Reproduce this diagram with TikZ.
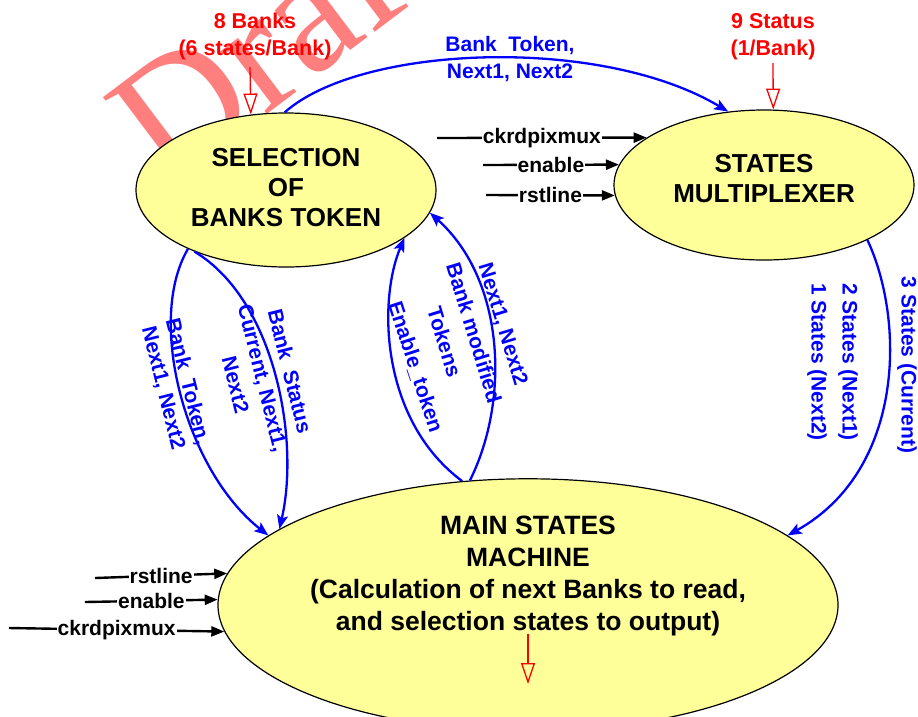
\documentclass[tikz,border=0pt]{standalone}
\usepackage{fontspec}
\setmainfont{Liberation Sans}
\newfontfamily\wmfont{Liberation Serif}
\usetikzlibrary{arrows.meta,shapes.geometric}
\definecolor{stateyellow}{RGB}{255,255,153}
\tikzset{
  statenode/.style={ellipse, draw=black, line width=1.2pt, fill=stateyellow, inner sep=0pt, align=center, font=\fontsize{26}{30}\selectfont\bfseries},
  flow/.style={draw=blue, line width=2.3pt, -{Stealth[length=14pt,width=11pt,inset=3pt]}},
  flowlabel/.style={text=blue, font=\fontsize{21}{25}\selectfont\bfseries, align=center, inner sep=0pt},
  redlabel/.style={text=red, font=\fontsize{21.5}{27}\selectfont\bfseries, align=center, inner sep=0pt},
  redarrow/.style={draw=red, line width=1.3pt, -{Triangle[open, length=21pt, width=14pt]}},
  sigarrow/.style={draw=black, line width=2.4pt, -{Triangle[length=13pt, width=10pt]}},
  siglabel/.style={fill=white, inner sep=1pt, font=\fontsize{21}{25}\selectfont\bfseries},
  watermark/.style={text=red, opacity=0.5, inner sep=0pt, font=\wmfont\fontsize{170}{170}\selectfont}
}
\begin{document}
\begin{tikzpicture}[x=1pt,y=-1pt]
\useasboundingbox (0,0) rectangle (918,716);
\begin{scope}
\clip (0,0) rectangle (918,716);
\node[watermark, anchor=base west, rotate=37] (wm) at (166,190) {Draft};
\end{scope}

% states
\node[statenode, minimum width=300pt, minimum height=154pt] (sel) at (286,190) {SELECTION\\OF\\BANKS TOKEN\\[-24pt]\mbox{}};
\node[statenode, minimum width=300pt, minimum height=150pt] (mux) at (764,185) {STATES\\MULTIPLEXER\\[-16pt]\mbox{}};
\node[statenode, minimum width=620pt, minimum height=224pt, font=\fontsize{26.5}{32}\selectfont\bfseries] (main) at (528,605)
  {MAIN STATES\\MACHINE\\(Calculation of next Banks to read,\\and selection states to output)\\\mbox{}\\\mbox{}};

% red inputs / output
\node[redlabel] (banks) at (255,36) {8 Banks\\(6 states/Bank)};
\coordinate (banksin) at (250,67);
\draw[redarrow] (banksin) -- (sel.115.6);
\node[redlabel] (status) at (773,37) {9 Status\\(1/Bank)};
\coordinate (statusin) at (773,63);
\draw[redarrow] (statusin) -- (mux.83.2);
\coordinate (outA) at (528,634);
\coordinate (outB) at (528,684);
\draw[redarrow] (outA) -- (outB);

% blue flows
\draw[flow] (sel.91) .. controls (360,45) and (600,35) .. (mux.116);
\node[flowlabel, font=\fontsize{21}{27}\selectfont\bfseries] (ltop) at (510,59) {Bank~~Token,\\Next1, Next2};

\draw[flow] (sel.211) .. controls (146,320) and (185,470) .. (main.165.5);
\node[flowlabel, rotate=-76] (l1) at (175,385) {Bank~~Token,\\Next1, Next2};

\draw[flow] (sel.214) .. controls (275,300) and (300,440) .. (main.163.5);
\node[flowlabel, rotate=-76, font=\fontsize{21}{28}\selectfont\bfseries] (l2) at (263,378) {Bank~~Status\\Current, Next1,\\Next2};

\draw[flow] (main.118.6) .. controls (380,420) and (378,300) .. (sel.-22);
\node[flowlabel, rotate=-72] (l3) at (415,367) {Enable\_token};

\draw[flow] (main.115.3) .. controls (510,400) and (505,280) .. (sel.-9.7);
\node[flowlabel, rotate=-73, font=\fontsize{21}{31}\selectfont\bfseries] (l4) at (474,333) {Next1, Next2\\Bank modified\\Tokens};

\draw[flow] (mux.-28) .. controls (905,320) and (905,470) .. (main.15);
\node[flowlabel, rotate=-90, font=\fontsize{21}{31}\selectfont\bfseries] (l5) at (832.5,362) {2 States (Next1)\\1 States (Next2)};
\node[flowlabel, rotate=-90] (l6) at (907,365) {3 States (Current)};

% black signal inputs to multiplexer
\coordinate (mck) at (437,138);
\coordinate (men) at (483,165);
\coordinate (mrs) at (486,195);
\draw[sigarrow] (mck) -- node[siglabel] (mckl) {ckrdpixmux} (mux.158.1);
\draw[sigarrow] (men) -- node[siglabel] (menl) {enable} (mux.172.1);
\draw[sigarrow] (mrs) -- node[siglabel] (mrsl) {rstline} (mux.-176.15);

% black signal inputs to main
\coordinate (brs) at (95,578);
\coordinate (ben) at (85,602);
\coordinate (bck) at (9,628);
\draw[sigarrow] (brs) -- node[siglabel] (brsl) {rstline} (main.174.87);
\draw[sigarrow] (ben) -- node[siglabel] (benl) {enable} (main.179.4);
\draw[sigarrow] (bck) -- node[siglabel] (bckl) {ckrdpixmux} (main.-175.67);
\end{tikzpicture}
\end{document}
